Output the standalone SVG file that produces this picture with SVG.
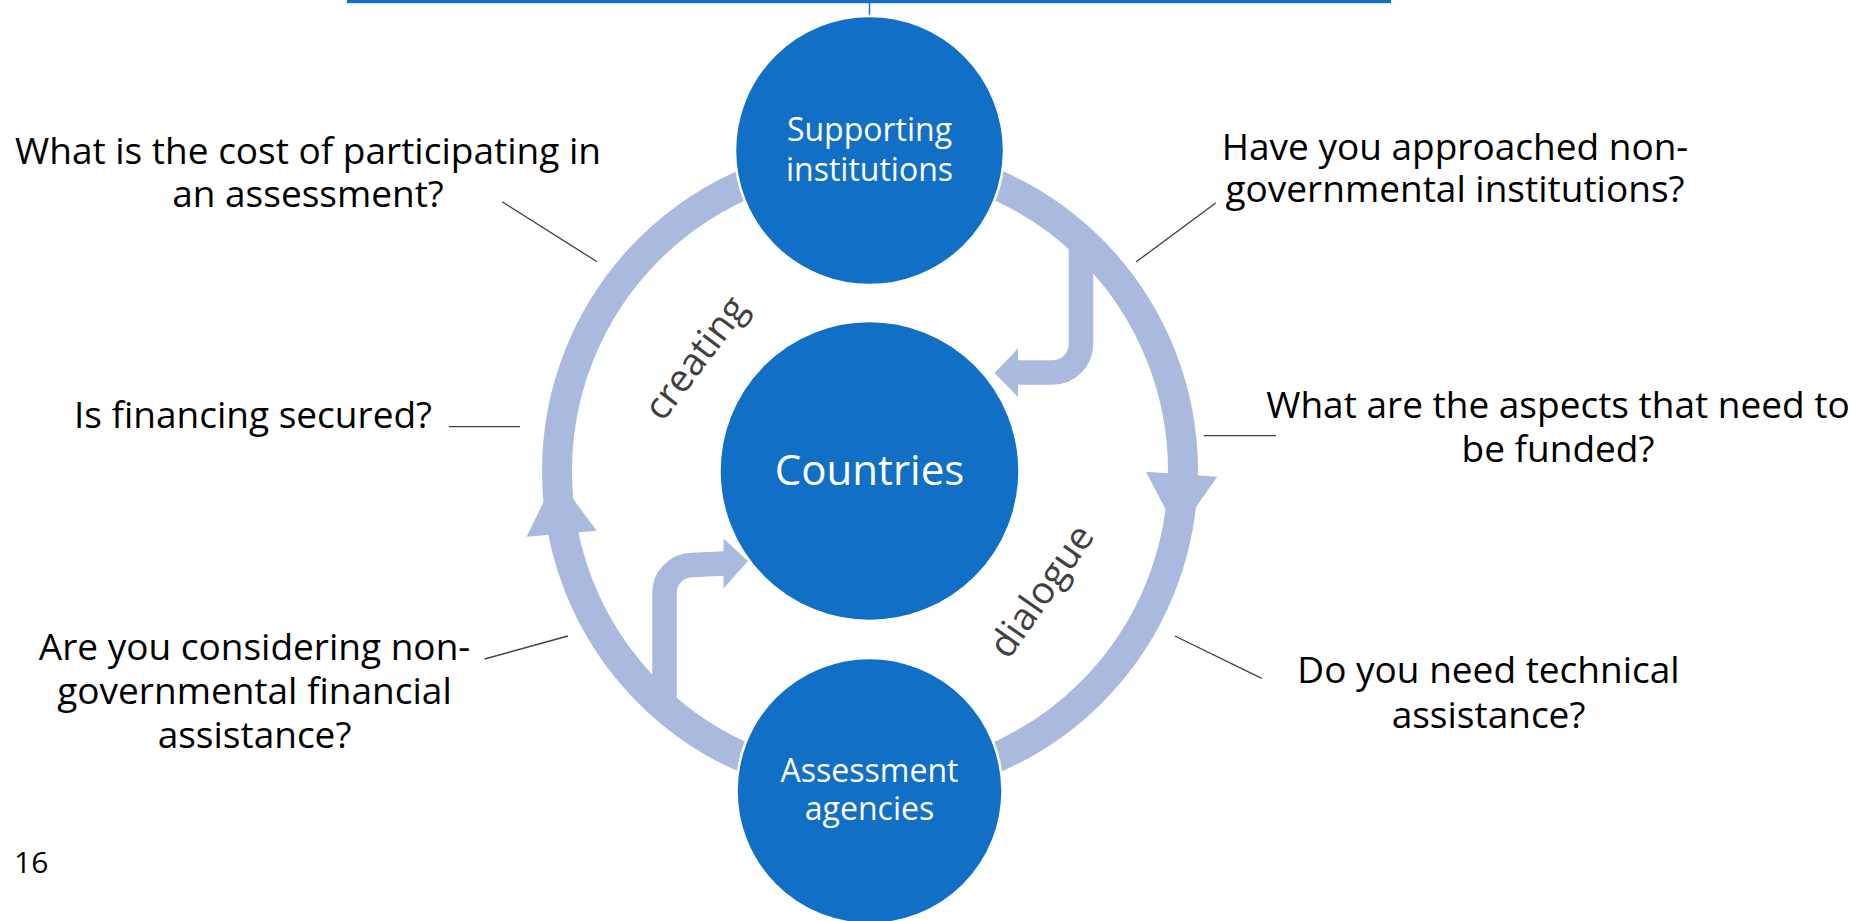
<svg xmlns="http://www.w3.org/2000/svg" width="1856" height="921" viewBox="0 0 1856 921">
  <style>
    .q { font-family: "Open Sans", "Liberation Sans", sans-serif; font-size: 37px; fill: #000000; text-anchor: middle; }
    .node-label { font-family: "Open Sans", "Liberation Sans", sans-serif; font-size: 32px; fill: #ffffff; text-anchor: middle; }
    .flow-label { font-family: "Open Sans", "Liberation Sans", sans-serif; font-size: 38px; fill: #404040; text-anchor: middle; }
    .node { fill: #1170C5; stroke: #ffffff; stroke-width: 2.5; }
    .ring { fill: none; stroke: #AABADF; stroke-width: 30; }
    .bent { fill: none; stroke: #AABADF; stroke-width: 24.5; }
    .head { fill: #AABADF; }
    .leader { stroke: #404040; stroke-width: 1.3; fill: none; }
  </style>

  <!-- header rule and its tick down to the top node -->
  <rect x="347" y="0" width="1044" height="3.2" fill="#1170C5"/>
  <line x1="869.5" y1="3" x2="869.5" y2="17" stroke="#1170C5" stroke-width="1.5"/>

  <!-- cycle ring and arrows -->
  <g id="connectors">
    <circle class="ring" cx="870" cy="471" r="313"/>
    <polygon class="head" points="556,476 526.7,536.7 596.7,530.7"/>
    <polygon class="head" points="1177.7,533 1146,471.7 1217.3,476.7"/>

    <!-- supporting institutions -> countries -->
    <path class="bent" d="M1081,232 V344 A28.5,28.5 0 0 1 1052.5,372.5 H1016"/>
    <polygon class="head" points="1018,348.5 994.5,373 1018,397"/>

    <!-- assessment agencies -> countries -->
    <path class="bent" d="M664.5,712 V593 A28,28 0 0 1 692.5,565 L725,563.5"/>
    <polygon class="head" points="723.5,538.5 748,561 723.5,588.5"/>

    <!-- leader lines to the questions -->
    <line class="leader" x1="502" y1="201.7" x2="597" y2="261.7"/>
    <line class="leader" x1="449" y1="426.7" x2="520" y2="426.7"/>
    <line class="leader" x1="1215.7" y1="203" x2="1136" y2="262"/>
    <line class="leader" x1="1203.7" y1="435.7" x2="1276" y2="435.7"/>
    <line class="leader" x1="484.6" y1="659" x2="567.8" y2="636"/>
    <line class="leader" x1="1174.9" y1="636" x2="1261.7" y2="678.3"/>
  </g>

  <g id="flow-labels">
    <text class="flow-label" transform="translate(697,359) rotate(-53)" x="0" y="11">creating</text>
    <text class="flow-label" transform="translate(1043,592) rotate(-55)" x="0" y="11">dialogue</text>
  </g>

  <g id="node-supporting">
    <circle class="node" cx="869.5" cy="150.5" r="134.5"/>
    <text class="node-label" x="869.5" y="141">Supporting</text>
    <text class="node-label" x="869.5" y="181">institutions</text>
  </g>

  <g id="node-countries">
    <circle class="node" cx="869.5" cy="471" r="150"/>
    <text class="node-label" x="869.5" y="485" style="font-size:42px">Countries</text>
  </g>

  <g id="node-assessment">
    <circle class="node" cx="869.5" cy="791" r="133"/>
    <text class="node-label" x="869.5" y="781.7">Assessment</text>
    <text class="node-label" x="869.5" y="820">agencies</text>
  </g>

  <g id="q-cost">
    <text class="q" x="308" y="164.3">What is the cost of participating in</text>
    <text class="q" x="308" y="207.3">an assessment?</text>
  </g>
  <g id="q-financing">
    <text class="q" x="253" y="428">Is financing secured?</text>
  </g>
  <g id="q-nongov-financial">
    <text class="q" x="254.5" y="660">Are you considering non-</text>
    <text class="q" x="254.5" y="704">governmental financial</text>
    <text class="q" x="254.5" y="748">assistance?</text>
  </g>
  <g id="q-nongov-institutions">
    <text class="q" x="1455" y="160">Have you approached non-</text>
    <text class="q" x="1455" y="201.7">governmental institutions?</text>
  </g>
  <g id="q-aspects">
    <text class="q" x="1558" y="418">What are the aspects that need to</text>
    <text class="q" x="1558" y="461.7">be funded?</text>
  </g>
  <g id="q-technical">
    <text class="q" x="1488.5" y="683.3">Do you need technical</text>
    <text class="q" x="1488.5" y="728.3">assistance?</text>
  </g>

  <text x="14" y="873.3" style="font-family:'Open Sans','Liberation Sans',sans-serif;font-size:30px;fill:#000000">16</text>
</svg>
